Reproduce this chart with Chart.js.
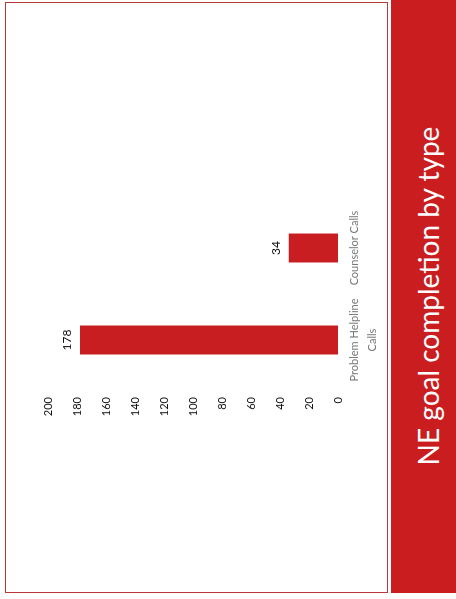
<!DOCTYPE html>
<html>
<head>
<meta charset="utf-8">
<script src="https://cdn.jsdelivr.net/npm/chart.js@4/dist/chart.umd.min.js"></script>
<style>
	html, body { margin: 0; padding: 0; background: #fff; }
	body { width: 456px; height: 599px; position: relative; overflow: hidden; font-family: Lato, "Open Sans", sans-serif; }
	#panel {
		position: absolute; left: 5px; top: 2px; width: 381px; height: 589px;
		border: 1.5px solid #b8383a; background: #fff;
	}
	#side {
		position: absolute; left: 391px; top: 0; width: 65px; height: 593px;
		background: #c91d20;
	}
	#title {
		position: absolute; left: 131px; top: 276px; width: 593px; height: 40px;
		line-height: 40px; text-align: center; color: #fff;
		font-family: Lato, sans-serif; font-size: 28px;
		transform: rotate(-90deg); transform-origin: center; white-space: nowrap;
	}
	/* chart is drawn upright, then turned on its side like the scanned slide */
	#wrap {
		position: absolute; left: 30px; top: 430px; width: 250px; height: 360px;
		transform-origin: 0 0; transform: rotate(-90deg);
	}
</style>
</head>
<body>
<div id="panel"></div>
<div id="side"></div>
<div id="title">NE goal completion by type</div>
<div id="wrap"><canvas id="chart" width="250" height="360"></canvas></div>
<script>
var categories = [["Problem Helpline", "Calls"], "Counselor Calls"];
var completions = [178, 34];
var yTicks = [0, 20, 40, 60, 80, 100, 120, 140, 160, 180, 200];

var BAR_RED = '#c81e22';

// write the value just past the end of each bar
var valueLabels = {
	id: 'valueLabels',
	afterDatasetsDraw: function(chart) {
		var ctx = chart.ctx;
		var meta = chart.getDatasetMeta(0);
		ctx.save();
		ctx.font = '12px Lato, sans-serif';
		ctx.fillStyle = '#111';
		ctx.textAlign = 'center';
		ctx.textBaseline = 'alphabetic';
		meta.data.forEach(function(bar, i) {
			ctx.fillText(String(completions[i]), bar.x, bar.y - 9);
		});
		ctx.restore();
	}
};

function draw() {
	new Chart(document.getElementById('chart'), {
		type: 'bar',
		data: {
			labels: categories,
			datasets: [{
				data: completions,
				backgroundColor: BAR_RED,
				borderWidth: 0,
				categoryPercentage: 1,
				barPercentage: 0.315
			}]
		},
		options: {
			responsive: false,
			animation: false,
			layout: { padding: { top: 18, right: 22, left: 0, bottom: 0 } },
			plugins: {
				legend: { display: false },
				tooltip: { enabled: false }
			},
			scales: {
				x: {
					grid: { display: false, drawTicks: false },
					border: { display: false },
					ticks: {
						maxRotation: 0, autoSkip: false, padding: 8,
						color: '#777', font: { family: 'Lato', size: 11, lineHeight: 1.6 }
					},
					afterFit: function(s) { s.height = 52; }
				},
				y: {
					min: 0, max: 200,
					grid: { display: false, drawTicks: false },
					border: { display: false },
					afterBuildTicks: function(s) { s.ticks = yTicks.map(function(v) { return { value: v }; }); },
					ticks: {
						padding: 11, color: '#111', font: { family: 'Lato', size: 11 }
					},
					afterFit: function(s) { s.width = 44; }
				}
			}
		},
		plugins: [valueLabels]
	});
}

if (document.fonts && document.fonts.load) {
	Promise.all([document.fonts.load('11px Lato'), document.fonts.load('12px Lato')]).then(draw, draw);
} else {
	draw();
}
</script>
</body>
</html>
